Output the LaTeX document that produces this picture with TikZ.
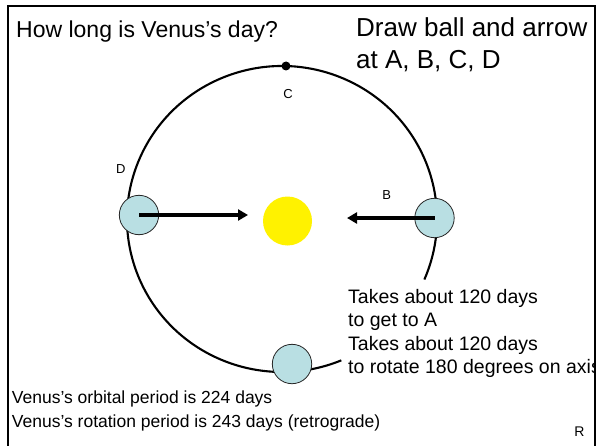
\documentclass[tikz,border=0pt]{standalone}
\usepackage{fontspec}
\setmainfont{Liberation Sans}
\usetikzlibrary{arrows.meta}
\definecolor{ballblue}{RGB}{185,223,227}
\tikzset{
  ball/.style={circle, draw=black!85, line width=0.8pt, fill=ballblue, minimum size=39.4pt, inner sep=0pt},
  sun/.style={circle, fill=yellow, minimum size=49pt, inner sep=0pt},
  dotc/.style={circle, fill=black, minimum size=9pt, inner sep=0pt},
  orbit/.style={line width=2.1pt, black},
  spinarrow/.style={line width=3.5pt, -{Triangle[length=10pt,width=11pt]}},
  small/.style={font=\fontsize{13}{15}\selectfont, inner sep=0pt},
  title/.style={font=\fontsize{23}{27}\selectfont, inner sep=0pt, anchor=base west},
  big/.style={font=\fontsize{26}{31}\selectfont, inner sep=0pt, anchor=base west},
  note/.style={font=\fontsize{19.5}{23}\selectfont, inner sep=0pt, anchor=base west},
  foot/.style={font=\fontsize{17.5}{21}\selectfont, inner sep=0pt, anchor=base west},
  frame/.style={line width=2.2pt, black}
}
\begin{document}
\begin{tikzpicture}[x=1pt,y=1pt]
\useasboundingbox (0,0) rectangle (596,445);
\fill[white] (0,0) rectangle (596,445);
% orbit with gap
\coordinate (oc) at (282,226);
\draw[orbit] (oc) ++(-23.3:155pt and 153pt) arc[start angle=-23.3, end angle=292.5, x radius=155pt, y radius=153pt];
% sun and top dot
\node[sun] (sun) at (287.5,224) {};
\node[dotc] (dotC) at (286,379) {};
% balls
\node[ball] (ballD) at (139,230) {};
\node[ball] (ballB) at (434.5,227) {};
\node[ball] (ballA) at (292,81) {};
% arrows
\coordinate (tipD) at (248,230);
\coordinate (tipB) at (347,227);
\draw[spinarrow] (ballD.center) -- (tipD);
\draw[spinarrow] (ballB.center) -- (tipB);
% small labels
\node[small] (labC) at (288,351) {C};
\node[small] (labD) at (120.7,276) {D};
\node[small] (labB) at (386.7,250) {B};
\node[small, font=\fontsize{14}{16}\selectfont] (labR) at (579.5,13.3) {R};
% texts
\node[title] (q) at (16,407) {How long is Venus’s day?};
\node[big] (task1) at (356,408.5) {Draw ball and arrow};
\node[big] (task2) at (356,376.5) {at A, B, C, D};
\begin{scope}
\clip (0,0) rectangle (594,445);
\node[note] (n1) at (348,141.7) {Takes about 120 days};
\node[note] (n2) at (348,118.3) {to get to A};
\node[note] (n3) at (348,94.3) {Takes about 120 days};
\node[note] (n4) at (348,71.7) {to rotate 180 degrees on axis};
\end{scope}
\node[foot] (f1) at (11.7,41.5) {Venus’s orbital period is 224 days};
\node[foot] (f2) at (11.7,18) {Venus’s rotation period is 243 days (retrograde)};
% frame
\draw[frame] (8,-10) -- (8,439) -- (595,439) -- (595,-10);
\end{tikzpicture}
\end{document}
